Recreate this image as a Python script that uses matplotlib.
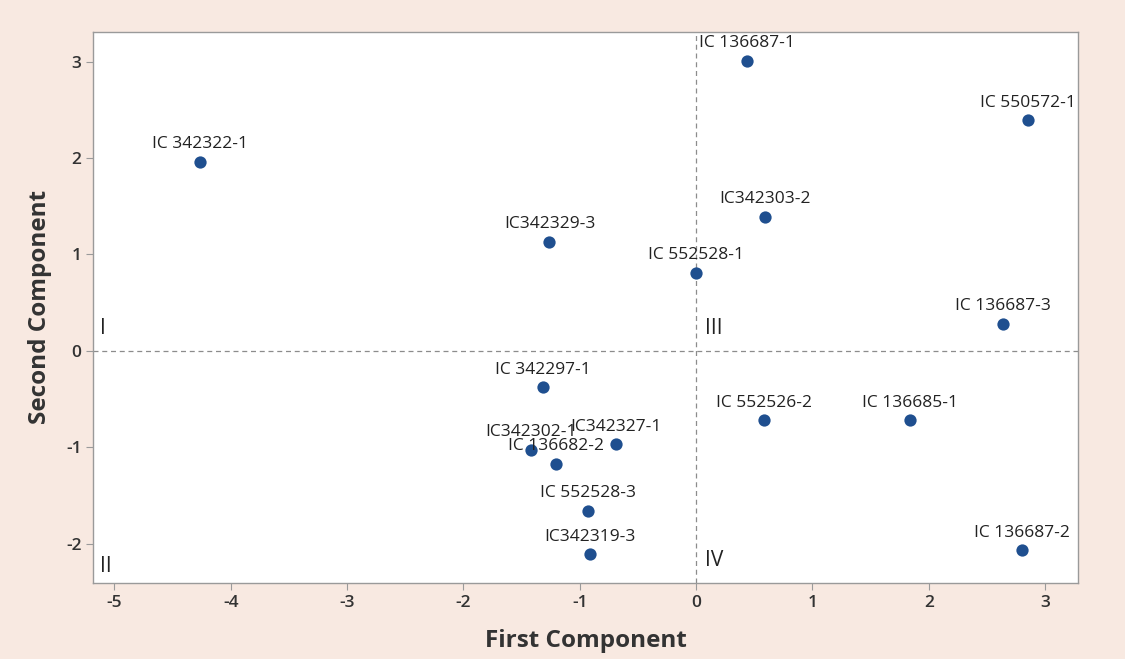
#!/usr/bin/env python3
"""PCA score plot: first vs second component, with quadrant labels."""
import matplotlib

matplotlib.use("Agg")
import matplotlib.pyplot as plt  # noqa: E402

plt.rcParams["font.family"] = ["Open Sans", "DejaVu Sans"]
plt.rcParams["axes.unicode_minus"] = False

INK = "#333333"
DOT = "#1f4f8f"
EDGE = "#9a9a9a"
BG = "#f8e9e1"

labels = [
    "IC 342322-1", "IC342329-3", "IC 552528-1", "IC 136687-1", "IC 550572-1",
    "IC342303-2", "IC 136687-3", "IC 342297-1", "IC342302-1", "IC 136682-2",
    "IC342327-1", "IC 552528-3", "IC342319-3", "IC 552526-2", "IC 136685-1",
    "IC 136687-2",
]
first = [-4.26, -1.26, 0.00, 0.44, 2.85, 0.59, 2.64, -1.32, -1.42, -1.20,
         -0.69, -0.93, -0.91, 0.58, 1.84, 2.80]
second = [1.96, 1.13, 0.81, 3.01, 2.39, 1.39, 0.28, -0.38, -1.03, -1.17,
          -0.97, -1.66, -2.11, -0.72, -0.72, -2.07]

quadrants = ["I", "II", "III", "IV"]
quad_x = [-5.12, -5.12, 0.08, 0.08]
quad_y = [0.12, -2.35, 0.12, -2.28]

fig = plt.figure(figsize=(11.25, 6.59), dpi=100, facecolor=BG)
ax = fig.add_axes([0.083, 0.115, 0.875, 0.837])
ax.set_facecolor("white")

ax.axhline(0, color="#8c8c8c", lw=0.9, ls=(0, (4, 3)), zorder=1)
ax.axvline(0, color="#8c8c8c", lw=0.9, ls=(0, (4, 3)), zorder=1)

ax.scatter(first, second, s=78, color=DOT, zorder=3, linewidths=0)
for lab, x, y in zip(labels, first, second):
    ax.annotate(lab, (x, y), xytext=(0, 7), textcoords="offset points",
                ha="center", va="bottom", fontsize=12.5, color="#222222",
                zorder=4)

for q, x, y in zip(quadrants, quad_x, quad_y):
    ax.text(x, y, q, fontsize=15, color="#222222", ha="left", va="bottom")

ax.set_xlim(-5.18, 3.28)
ax.set_ylim(-2.41, 3.31)
ax.set_xticks([-5, -4, -3, -2, -1, 0, 1, 2, 3])
ax.set_yticks([-2, -1, 0, 1, 2, 3])
ax.tick_params(labelsize=12.5, colors=INK, length=5, color=EDGE)
for t in ax.get_xticklabels() + ax.get_yticklabels():
    t.set_fontweight("semibold")
for s in ax.spines.values():
    s.set_color(EDGE)
    s.set_linewidth(1.0)

ax.set_xlabel("First Component", fontsize=17.5, fontweight="bold", color=INK,
              labelpad=13)
ax.set_ylabel("Second Component", fontsize=17.5, fontweight="bold", color=INK,
              labelpad=10)

fig.savefig("out.png", dpi=100, facecolor=BG)
